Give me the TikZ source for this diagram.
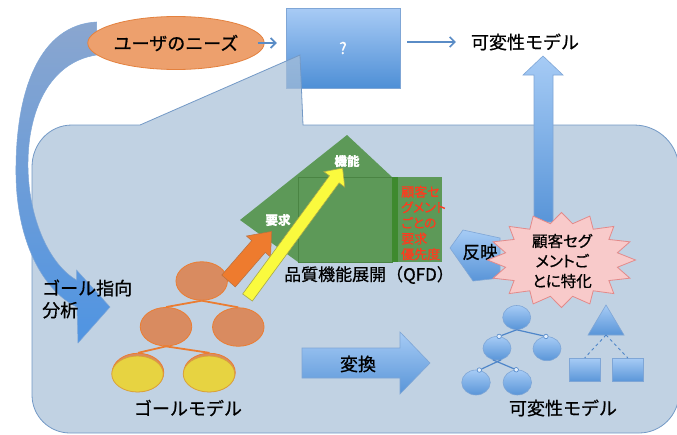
\documentclass[tikz,border=0pt]{standalone}
\usepackage{fontspec}
\setmainfont{Noto Sans CJK JP}[RawFeature={embolden=0.7}]
\newfontfamily\jpp[RawFeature={+palt;embolden=0.7}]{Noto Sans CJK JP}
\usetikzlibrary{arrows.meta,shapes.geometric,calc}
\definecolor{calloutfill}{HTML}{A8BFD8}
\definecolor{calloutdraw}{HTML}{7399C6}
\definecolor{qtop}{HTML}{A8CBF5}
\definecolor{qbot}{HTML}{4E8FD6}
\definecolor{arrowblue}{HTML}{5A8CC6}
\definecolor{needsfill}{HTML}{EDA06D}
\definecolor{needsdraw}{HTML}{E4813E}
\definecolor{bA}{HTML}{A6CBF5}
\definecolor{bB}{HTML}{5995D8}
\definecolor{bD}{HTML}{7FA6D6}
\definecolor{curvetop}{HTML}{8AA6CF}
\definecolor{curvebot}{HTML}{4F94E2}
\definecolor{qfdgreen}{HTML}{5D9958}
\definecolor{qfdline}{HTML}{4A8443}
\definecolor{qfdstripe}{HTML}{3E8A2E}
\definecolor{redtxt}{HTML}{FF3A1E}
\definecolor{orangearr}{HTML}{EE7B2E}
\definecolor{orangedraw}{HTML}{B9703F}
\definecolor{yellowarr}{HTML}{FAFA3E}
\definecolor{yellowdraw}{HTML}{A8A84A}
\definecolor{goalfill}{HTML}{D98B60}
\definecolor{goaldraw}{HTML}{EB7D32}
\definecolor{yelfill}{HTML}{E7D341}
\definecolor{yeldraw}{HTML}{D9A23A}
\definecolor{starfill}{HTML}{F8CACA}
\definecolor{stardraw}{HTML}{E38A8A}
\definecolor{ftline}{HTML}{4F86C9}
\begin{document}
\begin{tikzpicture}[x=1pt,y=-1pt,
 lbl/.style={inner sep=0pt, text=black, font=\fontsize{18}{22}\selectfont},
 toparrow/.style={draw=arrowblue, line width=1.6pt, -{Straight Barb[length=5pt,width=10pt]}},
 bluegrad/.style={top color=bA, bottom color=bB, draw=bD, line width=0.6pt},
 goal/.style={ellipse, fill=goalfill, draw=goaldraw, line width=0.8pt, minimum width=51.5pt, minimum height=38.5pt, inner sep=0pt},
 yel/.style={ellipse, fill=yelfill, draw=yeldraw, line width=0.8pt, minimum width=51.5pt, minimum height=36pt, inner sep=0pt},
 gline/.style={draw=goaldraw, line width=1.8pt},
 feat/.style={ellipse, bluegrad, inner sep=0pt, minimum width=28pt, minimum height=24pt},
 fbox/.style={rectangle, bluegrad, inner sep=0pt, minimum width=30.5pt, minimum height=23.5pt},
 fdot/.style={circle, fill=white!70!bA, draw=ftline, line width=0.6pt, inner sep=0pt, minimum size=4.5pt},
 fline/.style={draw=ftline, line width=1.2pt},
]
\useasboundingbox (0,0) rectangle (677,434);
\fill[white] (0,0) rectangle (677,434);

% ? box
\node[rectangle, top color=qtop, bottom color=qbot, draw=bD, line width=0.5pt,
      minimum width=114pt, minimum height=80pt, inner sep=0pt,
      text=white, font=\fontsize{16}{18}\selectfont] (q) at (343,48) {?};

% callout
\path[fill=calloutfill, fill opacity=0.7, draw=calloutdraw, line width=0.8pt]
  (32,167) .. controls (32,144) and (49,125) .. (72,125) -- (140,125) -- (300,55) -- (303,125)
  -- (634,125) .. controls (659,125) and (679,145) .. (679,170) -- (679,393)
  .. controls (679,415) and (661,433) .. (639,433) -- (70,433)
  .. controls (49,433) and (32,416) .. (32,395) -- cycle;

% curved arrow
\path[top color=curvetop, bottom color=curvebot, draw=bD, line width=0.5pt]
  (96.5,22) .. controls (40,25) and (15,90) .. (16,175)
  .. controls (17,245) and (45,292) .. (77,307) -- (78,343) -- (110,307) -- (76.5,270) -- (76.5,280)
  .. controls (50,265) and (29,220) .. (28,168)
  .. controls (27,110) and (50,62) .. (96.5,55) -- cycle;

% user needs
\node[ellipse, fill=needsfill, draw=needsdraw, line width=0.8pt, minimum width=142pt,
      minimum height=53pt, inner sep=0pt, font=\fontsize{18}{22}\selectfont] (needs) at (176,43) {ユーザのニーズ};
\node[lbl] (vmtop) at (525,42) {可変性モデル};
\draw[toparrow, shorten <=-7pt, shorten >=9pt] (needs.east) -- (needs.east -| q.west);
\draw[toparrow, shorten <=7pt, shorten >=15pt] (q.east |- vmtop) -- (vmtop.west);

% up arrow
\path[bluegrad] (534,222) -- (534,75) -- (523,75) -- (543,56) -- (563,75) -- (553,75) -- (553,222) -- cycle;

% QFD house
\path[fill=qfdgreen] (347,135) -- (392,177) -- (392,262) -- (298,262) -- (240,220) -- cycle;
\path[fill=qfdgreen, draw=qfdline, line width=0.8pt] (298,177) rectangle (392,262);
\path[fill=qfdstripe] (392,177) rectangle (398,262);
\path[fill=qfdgreen] (398,177) rectangle (442,262);
\node[inner sep=0pt, text=white, font=\bfseries\fontsize{12.5}{14}\selectfont] (kino) at (347,161) {機能};
\node[inner sep=0pt, text=white, font=\bfseries\fontsize{12.5}{14}\selectfont] (yokyu) at (278,220) {要求};
\node[anchor=west, inner sep=0pt, align=left, text=redtxt,
      font=\jpp\fontsize{13}{15.6}\selectfont] (qpri) at (401,223) {顧客セ\\グメント\\ごとの\\要求\\優先度};
\node[inner sep=0pt, font=\fontsize{17}{20}\selectfont] (qfd) at (369,275) {品質機能展開（QFD）};

% goal tree
\node[goal] (g1) at (201.7,281) {};
\node[goal] (g2) at (166,326.7) {};
\node[goal] (g3) at (238.3,327) {};
\node[goal] (g4b) at (138,372.5) {};
\node[goal] (g5b) at (209.5,372.5) {};
\node[yel] (g4) at (137.5,374) {};
\node[yel] (g5) at (209,374) {};
\draw[gline] (g1.south) -- (g2.north);
\draw[gline] (g1.south) -- (g3.north);
\draw[gline] (g2.south) -- (g4b.north);
\draw[gline] (g2.south) -- (g5b.north);
\node[lbl] (gm) at (188,408) {ゴールモデル};

% orange arrow
\begin{scope}[shift={(228.5,281)}, rotate=49]
\path[fill=orangearr, draw=orangedraw, line width=0.5pt]
  (0,-9) -- (45.7,-9) -- (45.7,-16) -- (65.7,0) -- (45.7,16) -- (45.7,9) -- (0,9) -- cycle;
\end{scope}
% yellow arrow
\begin{scope}[shift={(247.5,297.5)}, rotate=53.7]
\path[fill=yellowarr, draw=yellowdraw, line width=0.6pt]
  (0,-6) -- (146.6,-6) -- (146.6,-13) -- (160.6,0) -- (146.6,13) -- (146.6,6) -- (0,6) -- cycle;
\end{scope}

% goal analysis text
\node[lbl, align=left, anchor=west] (gda) at (42,299) {ゴール指向\\分析};

% henkan arrow
\path[bluegrad] (302,348) -- (400,348) -- (400,332) -- (430,363) -- (400,394) -- (400,378) -- (302,378) -- cycle;
\node[lbl] (henkan) at (358,364) {変換};

% hanei arrow
\path[bluegrad] (463,230) -- (500,238) -- (500,278) -- (473,281) -- (450,248) -- cycle;
\node[inner sep=0pt, font=\fontsize{17.5}{20}\selectfont] (hanei) at (480,252) {反映};

% starburst
\path[draw=stardraw, fill=starfill, line width=0.8pt] (635.5,260)
  \foreach \k in {1,...,31}{ -- ({561.5+(74-17*isodd(\k))*cos(11.25*\k)},{260+(47.5-10.5*isodd(\k))*sin(11.25*\k)}) } -- cycle;
\node[inner sep=0pt, align=center, font=\jpp\fontsize{15.5}{20}\selectfont] (sb) at (562,261) {顧客セグ\\メントご\\とに特化};

% feature tree
\node[feat] (f1) at (516.7,317.5) {};
\node[feat, minimum height=23.5pt] (f2) at (497,348.3) {};
\node[feat] (f3) at (547,348.7) {};
\node[feat, minimum width=28.5pt, minimum height=25pt] (f4) at (476,382.5) {};
\node[feat, minimum width=28.5pt, minimum height=25pt] (f5) at (517.3,382.5) {};
\node[fdot] (d2) at (f2.80) {};
\node[fdot] (d3) at (f3.95) {};
\node[fdot] (d4) at (f4.75) {};
\node[fdot] (d5) at (f5.95) {};
\draw[fline] (f1.south) -- (d2);
\draw[fline] (f1.south) -- (d3);
\draw[fline] (f2.250) -- (d5);
\draw[fline] (f2.290) -- (d4);
\path[bluegrad] (606,305) -- (624,335) -- (588,335) -- cycle;
\coordinate (tri) at (606,335);
\node[fbox] (r1) at (584.7,370) {};
\node[fbox] (r2) at (627.8,370) {};
\draw[fline, line width=0.9pt, dashed] (tri) -- (r1.north);
\draw[fline, line width=0.9pt, dashed] (tri) -- (r2.north);
\node[lbl] (vmbot) at (563,408) {可変性モデル};
\end{tikzpicture}
\end{document}
